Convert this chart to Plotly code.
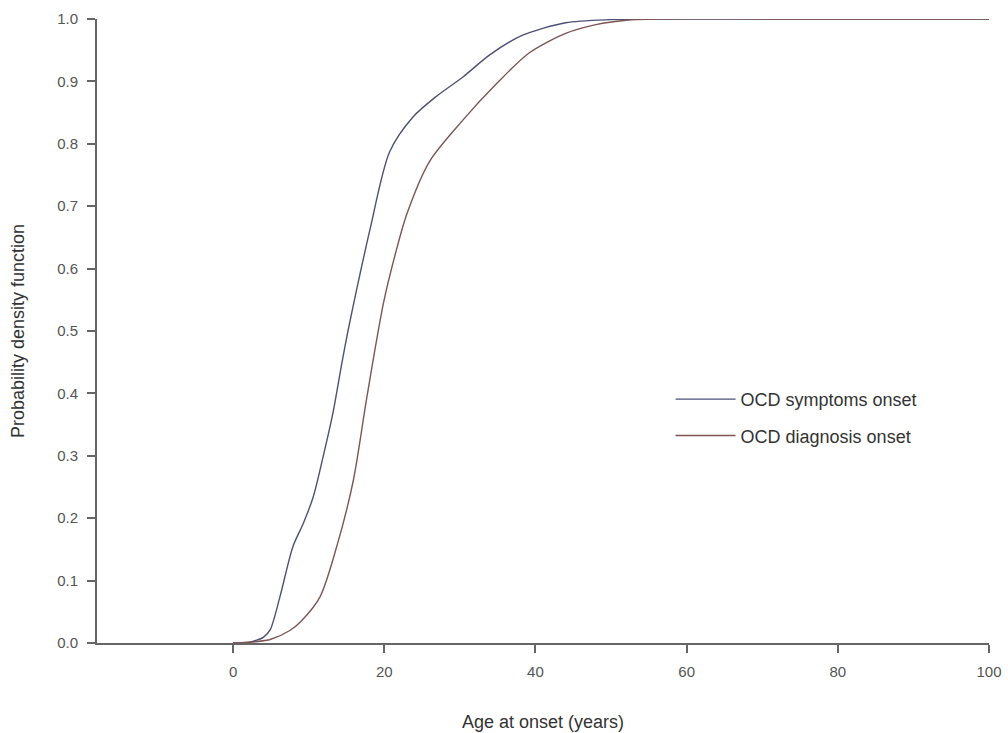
import plotly.graph_objects as go

# Data
sym_x = [0, 2, 3, 4, 4.9, 6.2, 7.9, 9.3, 10.6, 11.9, 13.2, 14.4, 15.2, 16.5, 18.1, 20.7, 23.8, 27, 30.4, 34, 38.3, 44, 50, 56, 70, 100]
sym_y = [0, 0.001, 0.004, 0.009, 0.021, 0.074, 0.154, 0.192, 0.234, 0.298, 0.368, 0.449, 0.50, 0.575, 0.662, 0.787, 0.843, 0.877, 0.907, 0.943, 0.974, 0.994, 0.999, 1.0, 1.0, 1.0]

diag_x = [0, 3, 5, 7.5, 9, 11.5, 13.7, 15.9, 17.7, 19.9, 21.5, 23, 26, 30.4, 34.9, 39.2, 44, 48, 52, 56, 70, 100]
diag_y = [0, 0.002, 0.006, 0.02, 0.035, 0.074, 0.154, 0.26, 0.394, 0.545, 0.625, 0.688, 0.772, 0.838, 0.897, 0.946, 0.977, 0.991, 0.998, 1.0, 1.0, 1.0]

x_ticks = [0, 20, 40, 60, 80, 100]
y_ticks = [0.0, 0.1, 0.2, 0.3, 0.4, 0.5, 0.6, 0.7, 0.8, 0.9, 1.0]

fig = go.Figure()
fig.add_trace(go.Scatter(x=sym_x, y=sym_y, mode="lines", name="OCD symptoms onset", legendgroup="a",
                         line=dict(color="#4f5078", width=1.4, shape="spline", smoothing=0.8)))
fig.add_trace(go.Scatter(x=diag_x, y=diag_y, mode="lines", name="OCD diagnosis onset", legendgroup="b",
                         line=dict(color="#7d5552", width=1.4, shape="spline", smoothing=0.8)))

axis_font = dict(family="Liberation Sans, Arial, sans-serif", size=15, color="#555555")
fig.update_layout(
    width=1008, height=733,
    paper_bgcolor="white", plot_bgcolor="white",
    margin=dict(l=97, r=19, t=19, b=90),
    font=dict(family="Liberation Sans, Arial, sans-serif", color="#333333"),
    showlegend=True,
    legend=dict(x=0.643, y=0.42, xanchor="left", yanchor="top",
                font=dict(size=18, color="#333333"), bgcolor="rgba(0,0,0,0)",
                tracegroupgap=10, traceorder="grouped", itemwidth=60),
    xaxis=dict(range=[-18, 100], tickvals=x_ticks, ticks="outside", ticklen=8,
               tickwidth=1.5, tickcolor="#666666", showline=True, linecolor="#666666",
               linewidth=2, showgrid=False, zeroline=False, tickfont=axis_font,
               ticklabelstandoff=6, automargin=False,
               title=dict(text="Age at onset (years)", font=dict(size=18, color="#333333"), standoff=36)),
    yaxis=dict(range=[0, 1], tickvals=y_ticks, tickformat=".1f", ticks="outside", ticklen=8,
               tickwidth=1.5, tickcolor="#666666", showline=True, linecolor="#666666",
               linewidth=2, showgrid=False, zeroline=False, tickfont=axis_font,
               ticklabelstandoff=6, automargin=False,
               title=dict(text="Probability density function", font=dict(size=18, color="#333333"), standoff=28)),
)
fig.write_html("out.html", config={"displayModeBar": False},
               post_script="document.body.style.margin='0';document.body.style.overflow='hidden';")
